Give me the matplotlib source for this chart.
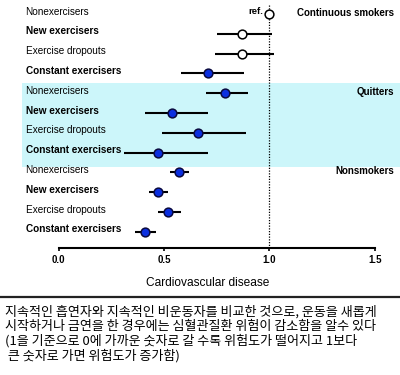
import matplotlib
matplotlib.use("Agg")
import matplotlib.pyplot as plt
from matplotlib.lines import Line2D

# --- data ---
groups = ["Continuous smokers", "Quitters", "Nonsmokers"]
subgroups = ["Nonexercisers", "New exercisers", "Exercise dropouts", "Constant exercisers"]
sub_bold = [False, True, False, True]

hr = [1.00, 0.87, 0.87, 0.71,
      0.79, 0.54, 0.66, 0.47,
      0.57, 0.47, 0.52, 0.41]
ci_lo = [None, 0.75, 0.74, 0.58,
         0.70, 0.41, 0.49, 0.31,
         0.53, 0.43, 0.47, 0.36]
ci_hi = [None, 1.01, 1.02, 0.88,
         0.90, 0.71, 0.89, 0.71,
         0.62, 0.52, 0.58, 0.46]
filled = [False, False, False, True,
          True, True, True, True,
          True, True, True, True]

ref_value = 1.0
xticks = [0.0, 0.5, 1.0, 1.5]
xlabel = "Cardiovascular disease"

caption = [
    "지속적인 흡연자와 지속적인 비운동자를 비교한 것으로, 운동을 새롭게",
    "시작하거나 금연을 한 경우에는 심혈관질환 위험이 감소함을 알수 있다",
    "(1을 기준으로 0에 가까운 숫자로 갈 수록 위험도가 떨어지고 1보다",
    " 큰 숫자로 가면 위험도가 증가함)",
]

LATIN = ["Liberation Sans", "DejaVu Sans"]
BLUE = "#0b2fe0"
EDGE = "#0a0a40"
CYAN = "#ccf6fa"

fig = plt.figure(figsize=(4.0, 3.75), dpi=100)
ax = fig.add_axes([0.0, 1 - 248.3 / 375, 1.0, 248.3 / 375])

n = len(hr)
rows = list(range(n))

# quitters band
ax.axhspan(3.5, 7.75, xmin=22 / 400, xmax=1.0, color=CYAN, lw=0, zorder=0)

# reference line
ax.plot([ref_value, ref_value], [-0.45, 11.9], color="black", lw=0.9,
        ls=(0, (1, 1.2)), zorder=1)

for i in rows:
    if ci_lo[i] is not None:
        ax.plot([ci_lo[i], ci_hi[i]], [i, i], color="black", lw=1.5,
                solid_capstyle="butt", zorder=2)
    ax.plot(hr[i], i, "o", ms=6.3, mew=1.1,
            mfc=BLUE if filled[i] else "white",
            mec=EDGE if filled[i] else "black", zorder=3)

ax.text(ref_value - 0.03, -0.12, "ref.", ha="right", va="center",
        fontsize=6.8, fontweight="bold", family=LATIN)

# row labels and group labels
lab_tr = ax.get_yaxis_transform()
for i in rows:
    sub = i % len(subgroups)
    ax.text(0.064, i - 0.12, subgroups[sub], transform=lab_tr, ha="left",
            va="center", fontsize=7.2,
            fontweight="bold" if sub_bold[sub] else "normal", family=LATIN)
for g, name in enumerate(groups):
    ax.text(0.985, g * len(subgroups) - 0.05, name, transform=lab_tr,
            ha="right", va="center", fontsize=7, fontweight="bold",
            family=LATIN)

# axes styling
ax.set_xlim(-58.7 / 210.7, (400 - 58.7) / 210.7)
ax.set_ylim(11.83, -0.707)
ax.patch.set_alpha(0)
for s in ["top", "left", "right"]:
    ax.spines[s].set_visible(False)
ax.spines["bottom"].set_bounds(xticks[0], xticks[-1])
ax.spines["bottom"].set_linewidth(1.5)
ax.set_yticks([])
ax.set_xticks(xticks)
ax.set_xticklabels([f"{t:.1f}" for t in xticks], fontsize=7,
                   fontweight="bold", family=LATIN)
ax.tick_params(axis="x", direction="out", length=2.5, width=1.2, pad=2)

fig.text(208 / 400, 1 - 283 / 375, xlabel, ha="center", va="center",
         fontsize=8.6, family=LATIN)

fig.add_artist(Line2D([0, 1], [1 - 297 / 375, 1 - 297 / 375],
                      transform=fig.transFigure, color="#222222", lw=1.6))

for k, line in enumerate(caption):
    fig.text(5 / 400, 1 - (311.5 + 14.8 * k) / 375, line, ha="left",
             va="center", fontsize=9.4,
             family=["Noto Sans CJK KR", "DejaVu Sans"])

fig.savefig("out.png", dpi=100)
